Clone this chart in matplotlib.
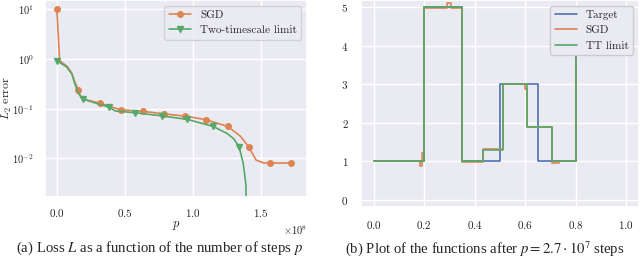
import matplotlib
matplotlib.use("Agg")
import matplotlib.pyplot as plt
import numpy as np
import seaborn as sns

sns.set_theme(style="darkgrid")
plt.rcParams["font.family"] = "serif"
plt.rcParams["font.serif"] = ["cmr10", "DejaVu Serif"]
plt.rcParams["mathtext.fontset"] = "cm"
plt.rcParams["axes.formatter.use_mathtext"] = True
plt.rcParams["axes.unicode_minus"] = False

# ── Data: loss curves (steps in units of 1e8) ─────────────────────────────────
sgd_steps = np.array([0.0, 0.02, 0.078, 0.11, 0.131, 0.158, 0.175, 0.2, 0.314,
                      0.443, 0.474, 0.63, 0.786, 0.944, 1.10, 1.256, 1.35,
                      1.41, 1.465, 1.52, 1.567, 1.725]) * 1e8
sgd_loss = np.array([10.0, 0.93, 0.70, 0.515, 0.35, 0.238, 0.174, 0.155, 0.130,
                     0.100, 0.095, 0.089, 0.079, 0.071, 0.060, 0.044, 0.028,
                     0.0172, 0.0093, 0.0081, 0.0081, 0.0081])
sgd_marks = [0, 5, 8, 10, 11, 12, 13, 14, 15, 17, 20, 21]

tt_steps = np.array([0.0, 0.07, 0.11, 0.135, 0.16, 0.195, 0.385, 0.43, 0.577,
                     0.77, 0.96, 1.15, 1.25, 1.30, 1.34, 1.37, 1.39, 1.40]) * 1e8
tt_loss = np.array([0.92, 0.70, 0.50, 0.30, 0.20, 0.155, 0.107, 0.090, 0.083,
                    0.072, 0.061, 0.044, 0.032, 0.025, 0.0172, 0.008, 0.003,
                    1e-5])
tt_marks = [0, 5, 6, 8, 9, 10, 11, 14]

# ── Data: functions after 2.7e7 steps (step breakpoints) ──────────────────────
target_x = [0.0, 0.2, 0.35, 0.5, 0.65, 0.8, 1.0]
target_y = [1.0, 5.0, 1.0, 3.0, 1.0, 4.0, 4.0]

sgd_x = [0.0, 0.182, 0.19, 0.199, 0.291, 0.307, 0.351, 0.433, 0.511, 0.601,
         0.607, 0.706, 0.736, 0.8, 1.0]
sgd_y = [1.0, 0.87, 1.22, 4.97, 5.11, 4.97, 0.98, 1.33, 3.0, 2.87, 1.9, 0.95,
         1.0, 4.0, 4.0]

tt_x = [0.0, 0.2, 0.35, 0.433, 0.511, 0.607, 0.706, 0.8, 1.0]
tt_y = [1.0, 5.0, 1.0, 1.3, 3.0, 1.9, 1.0, 4.0, 4.0]

blue, orange, green = sns.color_palette("deep")[:3]

fig = plt.figure(figsize=(6.4, 2.59), dpi=100)
ax1 = fig.add_axes([0.0703, 0.239, 0.409, 0.761])
ax2 = fig.add_axes([0.564, 0.201, 0.434, 0.799])

# ── (a) loss ──────────────────────────────────────────────────────────────────
ax1.plot(sgd_steps, sgd_loss, color=orange, lw=1.2, marker="o", ms=4,
         markevery=sgd_marks, label="SGD")
ax1.plot(tt_steps, tt_loss, color=green, lw=1.2, marker="v", ms=4,
         markevery=tt_marks, label="Two-timescale limit")
ax1.set_yscale("log")
ax1.set_ylim(10 ** -2.777, 10 ** 1.187)
ax1.set_xlim(-0.0875e8, 1.8375e8)
ax1.set_xticks([0, 0.5e8, 1.0e8, 1.5e8])
ax1.set_xlabel("$p$", fontsize=9, labelpad=0)
ax1.set_ylabel("$L_2$ error", fontsize=8.5)
ax1.yaxis.set_label_coords(-0.12, 0.5)
ax1.tick_params(axis="x", labelsize=8, pad=1)
ax1.tick_params(axis="y", labelsize=7.5, pad=2)
ax1.xaxis.get_offset_text().set_fontsize(7.5)
ax1.legend(loc="upper right", fontsize=8)

# ── (b) functions ─────────────────────────────────────────────────────────────
ax2.plot(target_x, target_y, drawstyle="steps-post", color=blue, lw=1.2,
         label="Target")
ax2.plot(sgd_x, sgd_y, drawstyle="steps-post", color=orange, lw=1.2,
         label="SGD")
ax2.plot(tt_x, tt_y, drawstyle="steps-post", color=green, lw=1.2,
         label="TT limit")
ax2.set_xlim(-0.05, 1.05)
ax2.set_ylim(-0.18, 5.19)
ax2.tick_params(labelsize=8, pad=3)
ax2.legend(loc="upper right", fontsize=8, framealpha=1)

# ── captions ──────────────────────────────────────────────────────────────────
fig.text(0.250, 0.042, "(a) Loss $L$ as a function of the number of steps $p$",
         ha="center", va="center", fontsize=10.6, family="Liberation Serif",
         math_fontfamily="stix")
fig.text(0.758, 0.042,
         r"(b) Plot of the functions after $p = 2.7\cdot10^7$ steps",
         ha="center", va="center", fontsize=10.6, family="Liberation Serif",
         math_fontfamily="stix")

fig.savefig("out.png", dpi=100)
